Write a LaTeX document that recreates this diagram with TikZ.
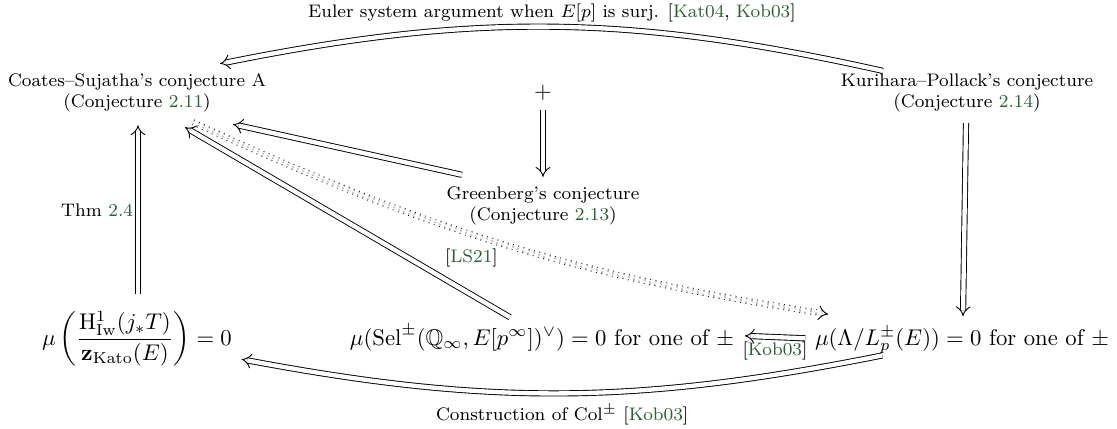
\documentclass[tikz,border=0pt]{standalone}
\usepackage{amsmath,amssymb}
\usetikzlibrary{arrows.meta,calc}
\definecolor{citegreen}{RGB}{45,95,55}
\newcommand{\grn}[1]{\textcolor{citegreen}{#1}}
\begin{document}
\begin{tikzpicture}[x=0.4405pt,y=-0.4405pt,
  lbl/.style={font=\footnotesize, align=center, inner sep=1pt},
  elbl/.style={font=\footnotesize, inner sep=2pt},
  imp/.style={double, double distance=1.9pt, line width=0.4pt, -{Implies}},
  dimp/.style={double, double distance=1.9pt, line width=0.4pt, dotted, -{Implies}}]
\useasboundingbox (0,0) rectangle (1117,429);
% nodes
\node[lbl] (cs) at (137,93) {Coates--Sujatha's conjecture A\\(Conjecture \grn{2.11})};
\node[lbl] (kp) at (967,93) {Kurihara--Pollack's conjecture\\(Conjecture \grn{2.14})};
\node[inner sep=1pt] (plus) at (543,93) {$+$};
\node[lbl] (gr) at (543,206) {Greenberg's conjecture\\(Conjecture \grn{2.13})};
\node[anchor=base, inner sep=1pt] (hw) at (137,345) {$\mu\left(\dfrac{\mathrm{H}^1_{\mathrm{Iw}}(j_*T)}{\mathbf{z}_{\mathrm{Kato}}(E)}\right) = 0$};
\node[anchor=base, inner sep=1pt] (sel) at (542,345) {$\mu(\mathrm{Sel}^{\pm}(\mathbb{Q}_\infty, E[p^\infty])^\vee) = 0$ for one of $\pm$};
\node[anchor=base, inner sep=1pt] (lp) at (962,345) {$\mu(\Lambda/L_p^{\pm}(E)) = 0$ for one of $\pm$};
% arrows
\draw[imp] ($(kp.north)+(-84,0)$) to[bend right=12]
  node[midway, above=0pt, elbl] {Euler system argument when $E[p]$ is surj. [\grn{Kat04}, \grn{Kob03}]}
  ($(cs.north)+(83,-7)$);
\draw[imp] ($(kp.south)+(-1,8)$) -- ($(lp.north)+(1,-8)$);
\draw[imp] ($(plus.south)+(0,7)$) -- ($(gr.north)+(0,-7)$);
\draw[imp] ($(gr.north west)+(18,-9)$) -- ($(cs.south)+(96,9)$);
\draw[imp] ($(sel.north)+(-32,-5)$) -- ($(cs.south)+(48,12)$);
\draw[dimp] ($(cs.south)+(56,7)$) to[bend right=8]
  node[midway, anchor=north east, elbl] {[\grn{LS21}]}
  ($(lp.north west)+(16,-10)$);
\draw[imp] ($(hw.north)+(1,-14)$) --
  node[midway, left, elbl] {Thm \grn{2.4}}
  ($(cs.south)+(1,10)$);
\draw[imp] ($(lp.west)+(-7,-2)$) --
  node[midway, below, elbl] {[\grn{Kob03}]}
  ($(sel.east)+(8,-2)$);
\draw[imp] ($(lp.south west)+(70,-1)$) to[bend left=11]
  node[midway, below=3pt, elbl] {Construction of Col$^{\pm}$ [\grn{Kob03}]}
  ($(hw.south east)+(7,-10)$);
\end{tikzpicture}
\end{document}
